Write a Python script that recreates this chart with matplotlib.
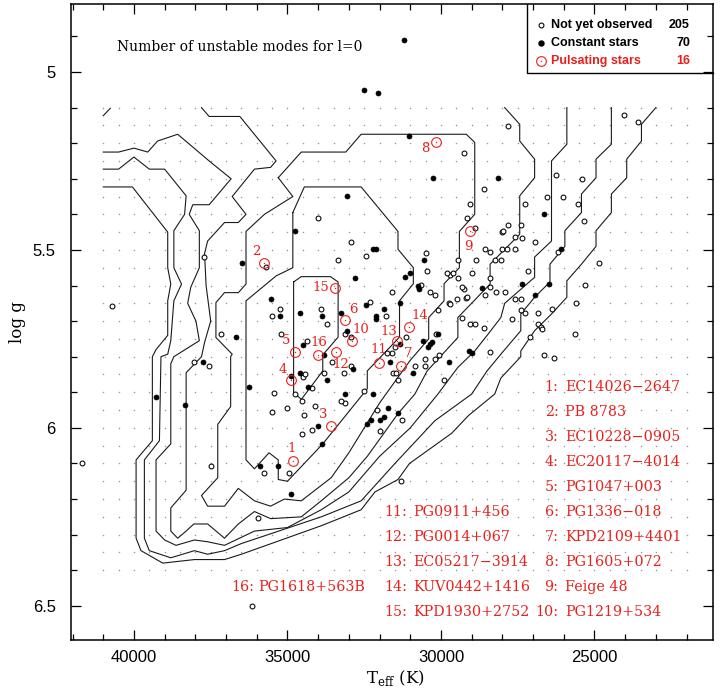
import numpy as np
import matplotlib.pyplot as plt
from matplotlib.ticker import MultipleLocator

# model grid (Teff step 500 K, log g step 0.05)
grid_teff = np.arange(22000, 41001, 500)
grid_logg = np.arange(5.10, 6.401, 0.05)

# contour lines of the number of unstable l=0 modes, outer (c1) to inner (c7)
c0_teff = [41000, 40770]
c0_logg = [5.123, 5.102]

c1_teff = [41000, 40050, 38900, 38900, 38800, 38900, 38900, 39280, 39400, 39400, 39930, 39930, 39770,
           39060, 38030, 37050, 36500, 33900, 32600, 32150, 31400, 31025, 29650, 29100, 28250, 28050,
           27400, 27400, 26950, 26400, 25900, 25900, 25425, 24950, 24950, 24450, 24450, 23950, 23950,
           23470, 23470, 23000]
c1_logg = [5.323, 5.323, 5.45, 5.55, 5.596, 5.643, 5.74, 5.78, 5.80, 6.036, 6.09, 6.31, 6.345,
           6.38, 6.37, 6.37, 6.355, 6.275, 6.23, 6.18, 6.145, 6.10, 6.015, 5.965, 5.905, 5.86,
           5.80, 5.784, 5.727, 5.68, 5.633, 5.587, 5.54, 5.49, 5.446, 5.395, 5.343, 5.297, 5.245,
           5.194, 5.147, 5.10]

c2_teff = [41000, 40500, 40000, 39500, 39000, 38300, 38350, 38700, 38700, 38450, 38700, 38800, 38900,
           39120, 39170, 39660, 39660, 39500, 38800, 38030, 37600, 37050, 36500, 33900, 32600, 31500,
           30200, 29000, 28500, 28050, 27400, 27400, 26950, 26450, 26450, 25965, 25965, 25425, 25425,
           24950, 24950, 24450, 24450]
c2_logg = [5.273, 5.273, 5.239, 5.273, 5.273, 5.348, 5.40, 5.446, 5.55, 5.596, 5.643, 5.755, 5.793,
           5.80, 6.036, 6.09, 6.31, 6.345, 6.365, 6.345, 6.355, 6.345, 6.325, 6.25, 6.205, 6.10,
           5.98, 5.905, 5.84, 5.793, 5.727, 5.68, 5.633, 5.59, 5.54, 5.49, 5.446, 5.395, 5.343,
           5.297, 5.245, 5.203, 5.10]

c3_teff = [41000, 40500, 40000, 39550, 39230, 38575, 37550, 36835, 37550, 38085, 38200, 37870, 37870,
           38150, 38250, 37980, 37870, 38700, 38800, 38800, 39280, 39280, 39000, 38630, 38030, 37600,
           37050, 36075, 35000, 33900, 33000, 32000, 31000, 30100, 29450, 28900, 28470, 28050, 27925,
           26950, 26950, 26400, 26400, 25900, 25900]
c3_logg = [5.225, 5.225, 5.214, 5.225, 5.194, 5.175, 5.25, 5.30, 5.373, 5.373, 5.40, 5.446, 5.55,
           5.605, 5.65, 5.70, 5.755, 5.80, 5.82, 6.045, 6.09, 6.29, 6.315, 6.33, 6.315, 6.32,
           6.33, 6.29, 6.28, 6.23, 6.18, 6.08, 6.00, 5.905, 5.83, 5.784, 5.737, 5.69, 5.65,
           5.577, 5.52, 5.475, 5.25, 5.203, 5.10]

c4_teff = [37800, 37550, 36550, 35370, 35550, 36075, 36800, 36350, 36600, 37050, 37600, 37700, 37650,
           37500, 37700, 37800, 38300, 38300, 38800, 38800, 38575, 38300, 38050, 37600, 37050, 36600,
           36075, 35550, 34550, 33900, 33000, 32400, 31400, 30850, 30450, 29450, 29450, 28400, 28400,
           27435, 27435, 26950, 26950, 27435, 27435, 27925]
c4_logg = [5.10, 5.125, 5.125, 5.25, 5.268, 5.273, 5.35, 5.40, 5.423, 5.423, 5.475, 5.51, 5.60,
           5.70, 5.76, 5.80, 5.845, 6.175, 6.225, 6.29, 6.31, 6.29, 6.27, 6.27, 6.31, 6.27,
           6.235, 6.255, 6.25, 6.205, 6.14, 6.08, 5.96, 5.905, 5.84, 5.746, 5.69, 5.596, 5.54,
           5.456, 5.348, 5.297, 5.245, 5.194, 5.147, 5.10]

c5_teff = [35300, 34550, 33100, 32600, 29175, 28900, 28900, 29400, 29400, 29900, 29900, 30400, 30400,
           31000, 32000, 33000, 33575, 34550, 35100, 35550, 36075, 36600, 37050, 37600, 37800, 37270,
           37270, 36850, 36850, 36800, 37330, 37330, 37050, 36600, 36350, 36350, 35750, 34825, 35300]
c5_logg = [5.297, 5.225, 5.225, 5.175, 5.175, 5.198, 5.40, 5.448, 5.55, 5.595, 5.643, 5.69, 5.75,
           5.81, 5.93, 6.07, 6.14, 6.205, 6.20, 6.22, 6.205, 6.17, 6.22, 6.22, 6.19, 6.14,
           5.99, 5.94, 5.80, 5.793, 5.746, 5.648, 5.62, 5.62, 5.596, 5.448, 5.40, 5.35, 5.297]

c6_teff = [34825, 34450, 32600, 31400, 31400, 30900, 30900, 31350, 31350, 32400, 32400, 33850, 35000,
           35300, 35300, 35600, 36075, 36350, 36350, 35370, 34825, 34825]
c6_logg = [5.395, 5.323, 5.323, 5.448, 5.498, 5.55, 5.595, 5.643, 5.745, 5.84, 5.89, 6.045, 6.15,
           6.145, 6.09, 6.07, 6.115, 6.09, 5.643, 5.573, 5.55, 5.395]

c7_teff = [34800, 34550, 33600, 33350, 33350, 33850, 33850, 34550, 34800, 34800]
c7_logg = [5.59, 5.575, 5.575, 5.59, 5.745, 5.795, 5.84, 5.92, 5.90, 5.59]

# not yet observed sdB stars
open_teff = [40700, 41700, 37730, 35685, 34000, 32925, 33350, 35250, 35510, 33900, 33700, 37160, 35200,
             34360, 33120, 33550, 38050, 37540, 34500, 34420, 34190, 33170, 32920, 35450, 34770, 37500,
             35500, 35000, 34520, 34470, 34100, 34200, 34530, 33800, 35770, 34960, 35970, 36150, 31300,
             33140, 32070, 31270, 31990, 32450, 30500, 30450, 31600, 29700, 32300, 31800, 32930, 32520,
             33250, 29250, 27815, 28600, 29050, 29150, 26250, 26550, 26020, 27250, 25400, 25550, 25350,
             24050, 23575, 27815, 28000, 27600, 27375, 27400, 26950, 29450, 29800, 29600, 28550, 28400,
             28850, 29000, 28250, 28050, 28000, 27850, 27600, 27150, 28400, 28400, 29250, 29200, 29475,
             29750, 28550, 28200, 27925, 27600, 27400, 27675, 27400, 27250, 26850, 26850, 26750, 26700,
             27100, 26400, 25600, 25650, 26650, 26325, 24850, 25300, 26200, 28400, 29900, 28600, 29300,
             29050, 28900, 30150, 30525, 30525, 30050, 30200, 31150, 31600, 31500, 31750, 31550, 31450,
             31400, 30650, 30350, 30200, 30100, 27975, 30850, 29700, 29150, 29300, 28900, 29450]
open_logg = [5.657, 6.100, 5.519, 5.548, 5.409, 5.477, 5.528, 5.667, 5.687, 5.667, 5.707, 5.737, 5.737,
             5.755, 5.737, 5.816, 5.816, 5.826, 5.857, 5.850, 5.888, 5.847, 5.826, 5.903, 5.905, 6.106,
             5.954, 5.945, 5.925, 5.965, 5.938, 6.007, 6.017, 5.846, 6.127, 6.126, 6.254, 6.500, 6.150,
             5.929, 5.949, 5.979, 6.009, 5.517, 5.510, 5.559, 5.617, 5.570, 5.646, 5.686, 5.746, 5.896,
             5.925, 5.229, 5.151, 5.330, 5.370, 5.410, 5.290, 5.350, 5.350, 5.370, 5.300, 5.370, 5.418,
             5.120, 5.140, 5.430, 5.450, 5.465, 5.467, 5.430, 5.477, 5.528, 5.566, 5.566, 5.498, 5.507,
             5.528, 5.566, 5.528, 5.528, 5.498, 5.498, 5.498, 5.560, 5.578, 5.605, 5.610, 5.635, 5.637,
             5.650, 5.626, 5.618, 5.618, 5.638, 5.638, 5.695, 5.670, 5.677, 5.678, 5.709, 5.716, 5.722,
             5.746, 5.667, 5.648, 5.736, 5.796, 5.805, 5.537, 5.598, 5.507, 5.788, 5.866, 5.718, 5.690,
             5.707, 5.707, 5.737, 5.807, 5.826, 5.796, 5.807, 5.746, 5.790, 5.772, 5.790, 5.846, 5.846,
             5.866, 5.598, 5.617, 5.627, 5.668, 5.448, 5.826, 5.652, 5.632, 5.605, 5.437, 5.580]

# constant stars
const_teff = [36480, 34770, 35550, 35250, 34600, 33870, 33270, 33050, 32800, 36670, 34510, 33050, 33800,
              37760, 34600, 34330, 33700, 32850, 36250, 39280, 33120, 38330, 34880, 34000, 33870, 35880,
              35300, 34900, 32420, 32290, 32000, 31870, 31730, 31410, 32200, 32100, 30550, 31170, 31000,
              32450, 31850, 32100, 32100, 32200, 31050, 30250, 28150, 26650, 28650, 27375, 26485, 26100,
              29000, 29080, 30100, 30350, 30420, 30300, 30600, 30900, 29750, 31350, 31650, 30700, 30750,
              32520, 32050, 31200, 26950, 31350]
const_logg = [5.537, 5.448, 5.637, 5.687, 5.678, 5.687, 5.677, 5.349, 5.578, 5.746, 5.767, 5.727, 5.796,
              5.816, 5.847, 5.885, 5.866, 5.835, 5.885, 5.913, 5.905, 5.936, 5.853, 5.996, 6.046, 6.107,
              6.107, 6.186, 5.989, 5.979, 5.979, 5.970, 5.944, 5.958, 5.496, 5.498, 5.529, 5.575, 5.566,
              5.656, 5.666, 5.686, 5.695, 5.906, 5.180, 5.298, 5.298, 5.400, 5.607, 5.596, 5.596, 5.498,
              5.790, 5.785, 5.737, 5.765, 5.772, 5.758, 5.755, 5.846, 5.816, 5.648, 5.816, 5.610, 5.600,
              5.051, 5.060, 4.910, 5.626, 5.765]

# pulsating stars
puls_num = list(range(1, 17))
puls_teff = [34830, 35770, 33575, 34900, 34770, 33120, 31300, 30150, 29065, 32900, 32020, 33415,
             31425, 31050, 33450, 34010]
puls_logg = [6.093, 5.537, 5.995, 5.865, 5.786, 5.697, 5.826, 5.198, 5.448, 5.757, 5.817, 5.786,
             5.757, 5.716, 5.607, 5.795]
puls_names = ['EC14026\u22122647', 'PB 8783', 'EC10228\u22120905', 'EC20117\u22124014', 'PG1047+003',
              'PG1336\u2212018', 'KPD2109+4401', 'PG1605+072', 'Feige 48', 'PG1219+534', 'PG0911+456',
              'PG0014+067', 'EC05217\u22123914', 'KUV0442+1416', 'KPD1930+2752', 'PG1618+563B']

legend_labels = ['Not yet observed', 'Constant stars', 'Pulsating stars']
legend_counts = [205, 70, 16]

RED = '#e8201c'
SERIF = 'DejaVu Serif'
SANS = 'Liberation Sans'

fig = plt.figure(figsize=(7.22, 6.91), dpi=100)
ax = fig.add_axes([71 / 722, 51 / 691, 642 / 722, 636 / 691])

# grid of models
gt, gg = np.meshgrid(grid_teff, grid_logg)
ax.plot(gt.ravel(), gg.ravel(), ls='none', marker='o', ms=1.1, mew=0, color='0.6', zorder=1)

# contours
for ct, cg in [(c0_teff, c0_logg), (c1_teff, c1_logg), (c2_teff, c2_logg), (c3_teff, c3_logg),
               (c4_teff, c4_logg), (c5_teff, c5_logg), (c6_teff, c6_logg), (c7_teff, c7_logg)]:
    ax.plot(ct, cg, color='0.1', lw=0.8, zorder=2)

# stars
ax.plot(open_teff, open_logg, ls='none', marker='o', ms=3.5, mfc='white', mec='black', mew=0.75, zorder=3)
ax.plot(const_teff, const_logg, ls='none', marker='o', ms=3.6, mfc='black', mec='black', mew=0.5, zorder=3)
ax.plot(puls_teff, puls_logg, ls='none', marker='o', ms=7.0, mfc='none', mec=RED, mew=0.8, zorder=4)
ax.plot(puls_teff, puls_logg, ls='none', marker='o', ms=1.0, mfc=RED, mec=RED, mew=0, zorder=4)

# number labels beside pulsators (offsets in pixels)
lab_dx = [-1, -8, -8, -8, -8, 8, 7, -11, -1, 9, 0, 5, -8, 11, -14, 1]
lab_dy = [12, 12, 12, 10, 11, 11, 12, -6, -15, 12, 13, -13, 10, 11, 1, 12]
for n, t, g, dx, dy in zip(puls_num, puls_teff, puls_logg, lab_dx, lab_dy):
    ax.annotate(str(n), (t, g), xytext=(dx, dy), textcoords='offset pixels', ha='center', va='center',
                color=RED, fontsize=9.5, family=SERIF, zorder=5)

# list of pulsator names
row0, drow = 5.886, 0.0703
for k, (n, name) in enumerate(zip(puls_num, puls_names)):
    if n <= 10:
        xc, xn, row = 26170, 25960, k
    elif n <= 15:
        xc, xn, row = 31110, 30915, n - 6
    else:
        xc, xn, row = 36090, 35960, 8
    y = row0 + drow * row
    ax.text(xc, y, f'{n}:', ha='right', va='center', color=RED, fontsize=10.3, family=SERIF)
    ax.text(xn, y, name, ha='left', va='center', color=RED, fontsize=10.3, family=SERIF)

ax.text(0.0717, 0.932, 'Number of unstable modes for l=0', transform=ax.transAxes, ha='left',
        va='center', fontsize=10, family=SERIF)

# legend box
ax.plot([0.71, 0.71, 1.0], [1.0, 0.8915, 0.8915], transform=ax.transAxes, color='black', lw=1.0,
        clip_on=False, zorder=6)
ly = [0.967, 0.939, 0.9104]
ax.plot(0.732, ly[0], transform=ax.transAxes, marker='o', ms=3.5, mfc='white', mec='black', mew=0.75)
ax.plot(0.732, ly[1], transform=ax.transAxes, marker='o', ms=3.6, mfc='black', mec='black')
ax.plot(0.732, ly[2], transform=ax.transAxes, marker='o', ms=7.0, mfc='none', mec=RED, mew=0.8)
ax.plot(0.732, ly[2], transform=ax.transAxes, marker='o', ms=1.0, mfc=RED, mec=RED, mew=0)
for lab, cnt, y, col in zip(legend_labels, legend_counts, ly, ['black', 'black', RED]):
    ax.text(0.748, y, lab, transform=ax.transAxes, ha='left', va='center', fontsize=9,
            family=SANS, weight='bold', color=col)
    ax.text(0.964, y, str(cnt), transform=ax.transAxes, ha='right', va='center', fontsize=9,
            family=SANS, weight='bold', color=col)

ax.set_xlim(42050, 21140)
ax.set_ylim(6.596, 4.809)
ax.xaxis.set_major_locator(MultipleLocator(5000))
ax.xaxis.set_minor_locator(MultipleLocator(1000))
ax.yaxis.set_major_locator(MultipleLocator(0.5))
ax.yaxis.set_minor_locator(MultipleLocator(0.1))
ax.yaxis.set_major_formatter(plt.FuncFormatter(lambda v, p: f'{v:g}'))
ax.tick_params(which='both', direction='in', top=True, right=True, width=0.9)
ax.tick_params(which='major', length=7, labelsize=12, pad=7)
ax.tick_params(axis='y', which='major', pad=11)
ax.tick_params(which='minor', length=4.3)
for lbl in ax.get_xticklabels() + ax.get_yticklabels():
    lbl.set_family(SANS)
for sp in ax.spines.values():
    sp.set_linewidth(1.1)

ax.set_xlabel(r'T$_{\mathregular{eff}}$ (K)', family=SERIF, fontsize=12)
ax.set_ylabel('log g', family=SERIF, fontsize=12)
ax.xaxis.label.set_va('center')
ax.yaxis.label.set_va('center')
ax.xaxis.set_label_coords(0.505, -0.06)
ax.yaxis.set_label_coords(-0.083, 0.5)

fig.savefig('out.png', dpi=100)
